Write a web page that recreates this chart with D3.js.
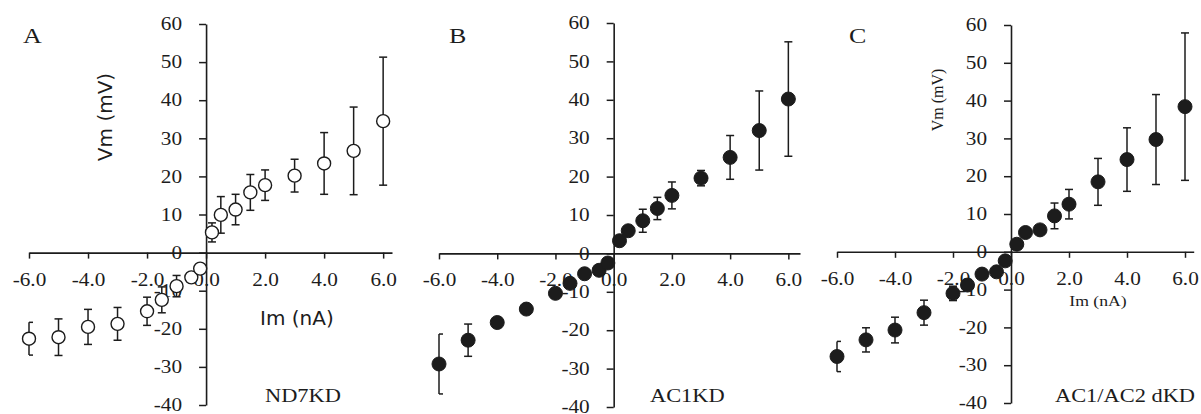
<!DOCTYPE html>
<html>
<head>
<meta charset="utf-8">
<script src="https://cdn.jsdelivr.net/npm/d3@7"></script>
<style>
  html, body { margin: 0; padding: 0; background: #fff; }
  svg { display: block; }
</style>
</head>
<body>
<svg id="chart" width="1201" height="414"></svg>
<script>
// ---- data ----
const currents = [-6, -5, -4, -3, -2, -1.5, -1, -0.5, -0.2, 0.2, 0.5, 1, 1.5, 2, 3, 4, 5, 6];
const xTickValues = [-6, -4, -2, 0, 2, 4, 6];
const yTickValues = [-40, -30, -20, -10, 0, 10, 20, 30, 40, 50, 60];

const nd7kdVm  = [-22.6, -22.2, -19.5, -18.7, -15.4, -12.4, -8.8, -6.5, -4.2, 5.3, 9.9, 11.3, 15.8, 17.7, 20.2, 23.4, 26.7, 34.5];
const nd7kdErr = [4.3, 4.8, 4.6, 4.3, 3.7, 3.4, 2.8, 1.2, 1.0, 2.5, 4.8, 4.0, 4.7, 4.0, 4.3, 8.1, 11.5, 16.8];

const ac1kdVm  = [-28.8, -22.6, -18.0, -14.5, -10.4, -7.8, -5.3, -4.4, -2.5, 3.3, 5.9, 8.5, 11.7, 15.1, 19.6, 25.0, 32.0, 40.2];
const ac1kdErr = [7.8, 4.2, 1.2, 1.2, 1.2, 1.2, 1.0, 1.0, 1.0, 1.0, 1.0, 3.0, 2.9, 3.5, 2.0, 5.7, 10.3, 14.9];

const dkdVm  = [-27.7, -23.3, -20.7, -16.1, -11.0, -8.8, -5.9, -5.3, -2.4, 2.0, 5.1, 5.8, 9.5, 12.6, 18.5, 24.4, 29.7, 38.4];
const dkdErr = [4.0, 3.2, 3.4, 3.3, 1.9, 1.5, 1.0, 1.0, 1.0, 1.0, 1.0, 1.0, 3.4, 3.9, 6.2, 8.4, 11.9, 19.5];

const panelLetters = ["A", "B", "C"];
const panelNames = ["ND7KD", "AC1KD", "AC1/AC2 dKD"];

// ---- drawing ----
const svg = d3.select("#chart");
const INK = "#1c1c1c";
const SERIF = "'Liberation Serif', 'Times New Roman', serif";
const SX = 1.18; // horizontal stretch of the serif lettering

function serifText(g, str, x, y, size, anchor) {
  return g.append("text")
    .attr("transform", `translate(${x},${y}) scale(${SX},1)`)
    .attr("text-anchor", anchor || "start")
    .attr("font-family", SERIF)
    .attr("font-size", size)
    .attr("fill", INK)
    .text(str);
}

const panels = [
  { vm: nd7kdVm, err: nd7kdErr, filled: false, xr: [29, 392], xMax: 6.3, yr: [405, 24],
    letterX: 23, nameX: 265 },
  { vm: ac1kdVm, err: ac1kdErr, filled: true, xr: [439, 800], xMax: 6.4, yr: [407, 23],
    letterX: 449, nameX: 650 },
  { vm: dkdVm, err: dkdErr, filled: true, xr: [837, 1193.7], xMax: 6.3, yr: [403, 25],
    letterX: 849, nameX: 1055 }
];

panels.forEach((p, i) => {
  const g = svg.append("g");
  const x = d3.scaleLinear().domain([-6, p.xMax]).range(p.xr);
  const y = d3.scaleLinear().domain([-40, 60]).range(p.yr);

  // x axis through y = 0
  const xAxis = g.append("g")
    .attr("transform", `translate(0,${y(0)})`)
    .call(d3.axisBottom(x).tickValues(xTickValues).tickSize(6).tickSizeOuter(0)
      .tickFormat(d => d.toFixed(1)));
  // y axis through x = 0
  const yAxis = g.append("g")
    .attr("transform", `translate(${x(0)},0)`)
    .call(d3.axisLeft(y).tickValues(yTickValues).tickSize(7).tickSizeOuter(0)
      .tickFormat(d => String(d)));

  [xAxis, yAxis].forEach(ax => {
    ax.select(".domain").attr("stroke", INK).attr("stroke-width", 1.6);
    ax.selectAll(".tick line").attr("stroke", INK).attr("stroke-width", 1.5);
    ax.selectAll(".tick text")
      .attr("font-family", SERIF).attr("font-size", 18).attr("fill", INK);
  });
  xAxis.selectAll(".tick text")
    .attr("y", 33).attr("dy", 0)
    .attr("transform", `scale(${SX},1)`);
  yAxis.selectAll(".tick text")
    .attr("x", -24 / SX).attr("dy", "0.32em")
    .attr("transform", `scale(${SX},1)`);

  // error bars (clipped at the left plot edge, x = -6)
  const xLeft = x(-6);
  const eb = g.append("g").attr("stroke", INK).attr("stroke-width", 1.5).attr("fill", "none");
  currents.forEach((c, k) => {
    const cx = x(c), top = y(p.vm[k] + p.err[k]), bot = y(p.vm[k] - p.err[k]);
    const cl = Math.max(cx - 4, xLeft), cr = cx + 4;
    eb.append("line").attr("x1", cx).attr("x2", cx).attr("y1", top).attr("y2", bot);
    eb.append("line").attr("x1", cl).attr("x2", cr).attr("y1", top).attr("y2", top);
    eb.append("line").attr("x1", cl).attr("x2", cr).attr("y1", bot).attr("y2", bot);
  });

  // markers
  g.append("g").selectAll("circle")
    .data(currents.map((c, k) => [c, p.vm[k]]))
    .join("circle")
    .attr("cx", d => x(d[0]))
    .attr("cy", d => y(d[1]))
    .attr("r", p.filled ? 7 : 6.5)
    .attr("fill", p.filled ? INK : "#fff")
    .attr("stroke", INK)
    .attr("stroke-width", p.filled ? 1 : 1.4);

  // panel letter and name
  serifText(g, panelLetters[i], p.letterX, 43, 22);
  serifText(g, panelNames[i], p.nameX, 402, 19);
});

// axis titles
// Panel A: sans-serif
svg.append("text")
  .attr("transform", "translate(112,117) rotate(-90)")
  .attr("text-anchor", "middle")
  .attr("font-family", "'DejaVu Sans', Verdana, sans-serif")
  .attr("font-size", 20).attr("fill", INK)
  .text("Vm (mV)");
svg.append("text")
  .attr("x", 260).attr("y", 325)
  .attr("font-family", "'DejaVu Sans', Verdana, sans-serif")
  .attr("font-size", 20).attr("fill", INK)
  .text("Im (nA)");

// Panel C: small serif
svg.append("text")
  .attr("transform", "translate(943,100) rotate(-90)")
  .attr("text-anchor", "middle")
  .attr("font-family", SERIF)
  .attr("font-size", 16).attr("fill", INK)
  .text("Vm (mV)");
serifText(svg, "Im (nA)", 1098, 306, 15, "middle");
</script>
</body>
</html>
